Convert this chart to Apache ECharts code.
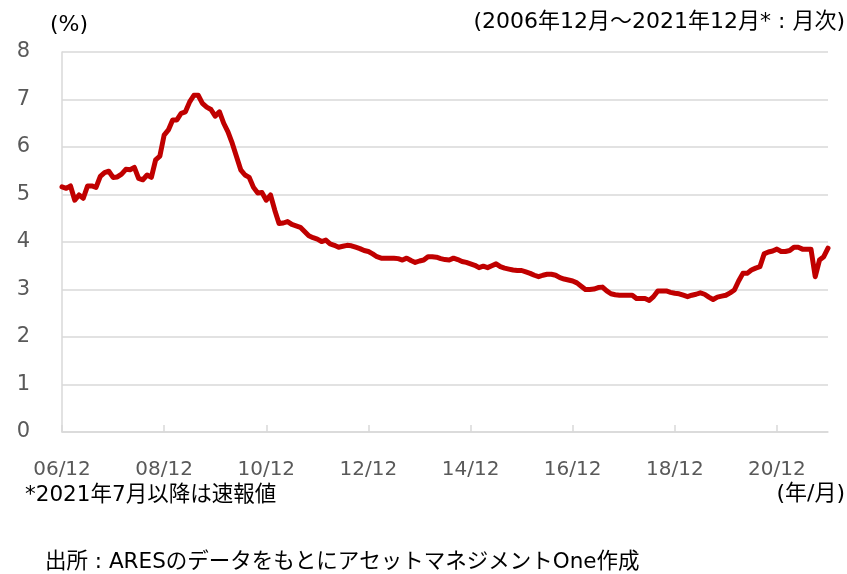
<!DOCTYPE html>
<html>
<head>
<meta charset="utf-8">
<script src="https://cdn.jsdelivr.net/npm/echarts@6/dist/echarts.min.js"></script>
<style>
html,body{margin:0;padding:0;background:#fff;}
#chart{width:847px;height:574px;}
</style>
</head>
<body>
<div id="chart"></div>
<script>
// Monthly values (%) 2006/12 - 2021/12
var startYear = 2006, startMonth = 12;
var values = [
5.16,5.13,5.18,4.88,4.99,4.92,5.18,5.18,5.15,5.38,5.46,5.49,
5.36,5.37,5.43,5.53,5.52,5.57,5.34,5.31,5.41,5.36,5.73,5.81,
6.25,6.36,6.57,6.57,6.71,6.74,6.95,7.09,7.09,6.92,6.84,6.79,
6.65,6.74,6.50,6.32,6.08,5.80,5.52,5.41,5.36,5.15,5.03,5.04,
4.88,4.99,4.67,4.39,4.40,4.43,4.37,4.34,4.31,4.22,4.13,4.09,
4.06,4.01,4.04,3.96,3.93,3.89,3.91,3.93,3.92,3.89,3.86,3.82,
3.80,3.75,3.69,3.66,3.66,3.66,3.66,3.65,3.62,3.66,3.61,3.57,
3.60,3.62,3.69,3.69,3.68,3.65,3.63,3.62,3.66,3.63,3.59,3.57,
3.54,3.51,3.46,3.49,3.46,3.50,3.54,3.48,3.45,3.43,3.41,3.40,
3.40,3.37,3.34,3.30,3.27,3.30,3.32,3.32,3.30,3.25,3.22,3.20,
3.18,3.14,3.07,3.00,3.00,3.01,3.04,3.05,2.97,2.91,2.89,2.88,
2.88,2.88,2.88,2.81,2.81,2.81,2.77,2.85,2.97,2.97,2.97,2.94,
2.92,2.91,2.88,2.85,2.88,2.90,2.93,2.90,2.84,2.79,2.84,2.86,
2.88,2.93,2.99,3.18,3.34,3.34,3.41,3.45,3.48,3.75,3.79,3.81,
3.85,3.80,3.80,3.82,3.89,3.89,3.85,3.85,3.85,3.27,3.62,3.69,
3.87
];
var yTicks = [0,1,2,3,4,5,6,7,8];
var categories = [];
for (var i = 0; i < values.length; i++) {
  var m = startMonth - 1 + i;
  var y = startYear + Math.floor(m / 12);
  var mo = (m % 12) + 1;
  categories.push(String(y % 100).padStart(2,'0') + '/' + String(mo));
}
var FONT = '"DejaVu Sans", "Noto Sans CJK JP", sans-serif';
function txt(text, x, y, align, size) {
  return {type:'text', x:x, y:y, style:{text:text, fontSize:size||20, fontFamily:FONT, fill:'#000',
    align:align, verticalAlign:'middle', textAlign:align, textVerticalAlign:'middle'}};
}
var chart = echarts.init(document.getElementById('chart'), null, {renderer:'canvas'});
chart.setOption({
  animation:false,
  grid:{left:62,right:19,top:52,bottom:142,containLabel:false},
  xAxis:{
    type:'category', data:categories, boundaryGap:false,
    axisLine:{show:true,lineStyle:{color:'#d9d9d9',width:1.5}},
    axisTick:{show:true,inside:true,length:7,interval:function(idx){return idx%24===0;},lineStyle:{color:'#d9d9d9',width:1.5}},
    axisLabel:{interval:function(idx){return idx%24===0 && idx<180;},color:'#595959',fontSize:20,fontFamily:FONT,margin:28},
    splitLine:{show:false}
  },
  yAxis:{
    type:'value', min:yTicks[0], max:yTicks[yTicks.length-1], interval:1,
    axisLine:{show:true,lineStyle:{color:'#d9d9d9',width:1.5}},
    axisTick:{show:false},
    axisLabel:{color:'#595959',fontSize:21,fontFamily:FONT,margin:32,align:'right'},
    splitLine:{show:true,lineStyle:{color:'#d9d9d9',width:1.5}}
  },
  series:[{
    type:'line', data:values, showSymbol:false, smooth:false,
    lineStyle:{color:'#c00000',width:5,join:'round',cap:'round'},
    itemStyle:{color:'#c00000'}
  }],
  graphic:[
    txt('(%)', 50, 25, 'left', 22),
    txt('(2006年12月～2021年12月* : 月次)', 845, 22, 'right', 22),
    txt('*2021年7月以降は速報値', 25, 495, 'left', 21.5),
    txt('(年/月)', 845, 494, 'right', 22),
    txt('出所 : ARESのデータをもとにアセットマネジメントOne作成', 45, 562, 'left', 21.5)
  ]
});
</script>
</body>
</html>
